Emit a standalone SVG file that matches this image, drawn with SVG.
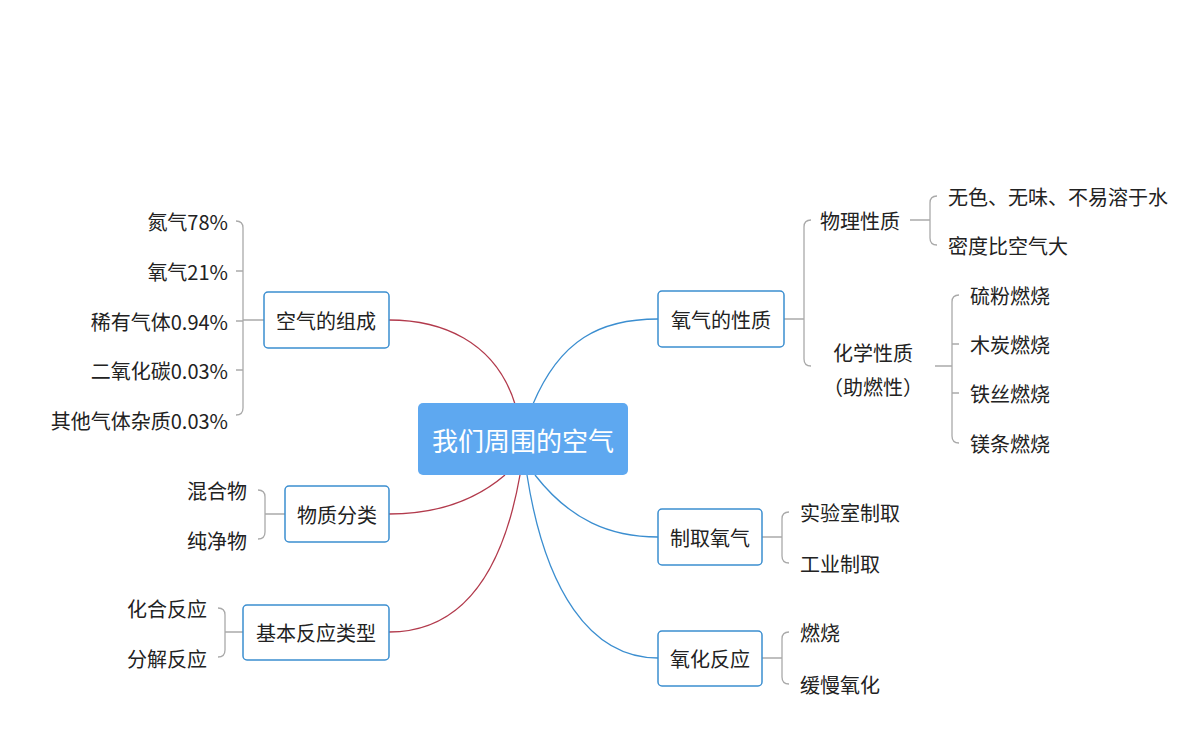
<svg xmlns="http://www.w3.org/2000/svg" width="1200" height="750" viewBox="0 0 1200 750">
<style>
text{font-family:"Noto Sans CJK SC","Liberation Sans",sans-serif;font-size:20px;fill:#222;dominant-baseline:central}
.box{fill:#fff;stroke:#3b8ed0;stroke-width:1.5}
.r{fill:none;stroke:#b23a4c;stroke-width:1.3}
.b{fill:none;stroke:#3b8ed0;stroke-width:1.3}
.g{fill:none;stroke:#aaa;stroke-width:1.3}
.e{text-anchor:end}
.m{text-anchor:middle}
</style>
<rect width="1200" height="750" fill="#fff"/>
<g id="connectors">
<path class="r" d="M515,404 C495,340 440,320 389,320"/>
<path class="r" d="M505,475 C470,505 430,514 389,514"/>
<path class="r" d="M520,475 C505,560 470,632 389,632"/>
<path class="b" d="M533,404 C560,340 600,319 658,319"/>
<path class="b" d="M535,475 C570,520 610,537 658,537"/>
<path class="b" d="M527,475 C545,590 590,658 658,658"/>
<path class="g" d="M264,320 H243 M236,221 Q243,221 243,228 V408 Q243,415 236,415 M236,271 H243 M236,321 H243 M236,370 H243"/>
<path class="g" d="M285,514 H265 M258,490 Q265,490 265,497 V532 Q265,539 258,539"/>
<path class="g" d="M243,632 H225 M218,608 Q225,608 225,615 V650 Q225,657 218,657"/>
<path class="g" d="M784,319 H804 M811,220 Q804,220 804,227 V359 Q804,366 811,366"/>
<path class="g" d="M910,220 H930 M937,196 Q930,196 930,203 V238 Q930,245 937,245"/>
<path class="g" d="M935,366 H952 M959,295 Q952,295 952,302 V436 Q952,443 959,443 M952,344 H959 M952,393 H959"/>
<path class="g" d="M762,537 H782 M789,512 Q782,512 782,519 V556 Q782,563 789,563"/>
<path class="g" d="M762,658 H782 M789,632 Q782,632 782,639 V677 Q782,684 789,684"/>
</g>
<g id="center"><rect x="418" y="403" width="210" height="72" rx="5" fill="#5ea8f0"/><text x="523" y="439" class="m" style="fill:#fff;font-size:26px">我们周围的空气</text></g>
<g id="n1"><rect class="box" x="264" y="292" width="125" height="56" rx="4"/><text x="326" y="320" class="m">空气的组成</text></g>
<g id="n1a"><text x="228" y="221" class="e">氮气78%</text></g>
<g id="n1b"><text x="228" y="271" class="e">氧气21%</text></g>
<g id="n1c"><text x="228" y="321" class="e">稀有气体0.94%</text></g>
<g id="n1d"><text x="228" y="370" class="e">二氧化碳0.03%</text></g>
<g id="n1e"><text x="228" y="420" class="e">其他气体杂质0.03%</text></g>
<g id="n2"><rect class="box" x="285" y="486" width="104" height="56" rx="4"/><text x="337" y="514" class="m">物质分类</text></g>
<g id="n2a"><text x="247" y="490" class="e">混合物</text></g>
<g id="n2b"><text x="247" y="540" class="e">纯净物</text></g>
<g id="n3"><rect class="box" x="243" y="605" width="146" height="55" rx="4"/><text x="316" y="632" class="m">基本反应类型</text></g>
<g id="n3a"><text x="207" y="608" class="e">化合反应</text></g>
<g id="n3b"><text x="207" y="658" class="e">分解反应</text></g>
<g id="n4"><rect class="box" x="658" y="291" width="126" height="56" rx="4"/><text x="721" y="319" class="m">氧气的性质</text></g>
<g id="n4a"><text x="820" y="220">物理性质</text></g>
<g id="n4a1"><text x="948" y="196">无色、无味、不易溶于水</text></g>
<g id="n4a2"><text x="948" y="245">密度比空气大</text></g>
<g id="n4b"><text x="873" y="352" class="m">化学性质</text><text x="873" y="386" class="m">（助燃性）</text></g>
<g id="n4b1"><text x="970" y="295">硫粉燃烧</text></g>
<g id="n4b2"><text x="970" y="344">木炭燃烧</text></g>
<g id="n4b3"><text x="970" y="393">铁丝燃烧</text></g>
<g id="n4b4"><text x="970" y="443">镁条燃烧</text></g>
<g id="n5"><rect class="box" x="658" y="509" width="104" height="56" rx="4"/><text x="710" y="537" class="m">制取氧气</text></g>
<g id="n5a"><text x="800" y="512">实验室制取</text></g>
<g id="n5b"><text x="800" y="563">工业制取</text></g>
<g id="n6"><rect class="box" x="658" y="631" width="104" height="55" rx="4"/><text x="710" y="658" class="m">氧化反应</text></g>
<g id="n6a"><text x="800" y="632">燃烧</text></g>
<g id="n6b"><text x="800" y="684">缓慢氧化</text></g>
</svg>
